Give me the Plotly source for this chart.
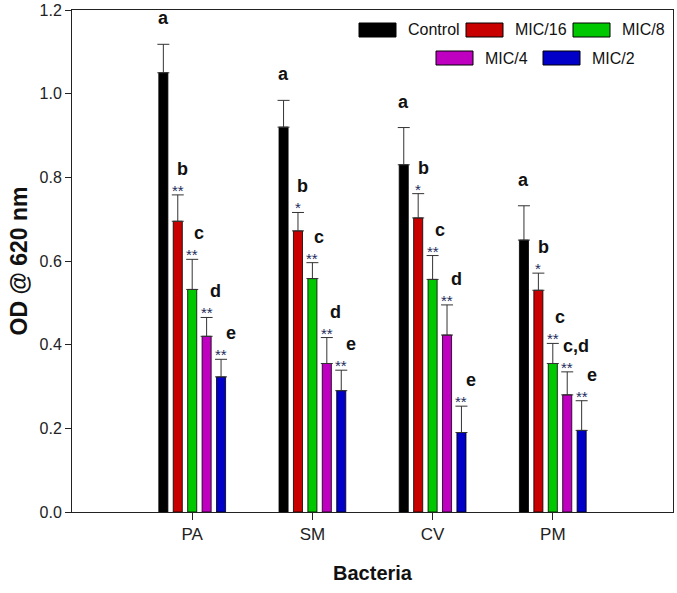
import plotly.graph_objects as go

# ---------------- data ----------------
categories = ["PA", "SM", "CV", "PM"]
series_names = ["Control", "MIC/16", "MIC/8", "MIC/4", "MIC/2"]

control = [1.050, 0.920, 0.830, 0.650]
mic16 = [0.695, 0.672, 0.703, 0.530]
mic8 = [0.532, 0.558, 0.556, 0.355]
mic4 = [0.420, 0.355, 0.423, 0.280]
mic2 = [0.323, 0.290, 0.190, 0.195]

control_err = [0.068, 0.064, 0.089, 0.082]
mic16_err = [0.063, 0.044, 0.058, 0.041]
mic8_err = [0.072, 0.038, 0.057, 0.048]
mic4_err = [0.045, 0.062, 0.072, 0.055]
mic2_err = [0.042, 0.049, 0.063, 0.071]

control_letters = ["a", "a", "a", "a"]
mic16_letters = ["b", "b", "b", "b"]
mic8_letters = ["c", "c", "c", "c"]
mic4_letters = ["d", "d", "d", "c,d"]
mic2_letters = ["e", "e", "e", "e"]

control_stars = ["", "", "", ""]
mic16_stars = ["**", "*", "*", "*"]
mic8_stars = ["**", "**", "**", "**"]
mic4_stars = ["**", "**", "**", "**"]
mic2_stars = ["**", "**", "**", "**"]

y_ticks = [0.0, 0.2, 0.4, 0.6, 0.8, 1.0, 1.2]

# ---------------- styles ----------------
colors = ["#000000", "#c80000", "#00c800", "#c000c0", "#0000c8"]
values = [control, mic16, mic8, mic4, mic2]
errors = [control_err, mic16_err, mic8_err, mic4_err, mic2_err]
letters = [control_letters, mic16_letters, mic8_letters, mic4_letters, mic2_letters]
stars = [control_stars, mic16_stars, mic8_stars, mic4_stars, mic2_stars]
letter_dx = [0, 5, 7, 9, 10]

W, H = 677, 593
ML, MR, MT, MB = 72, 4, 10, 81
PW, PH = W - ML - MR, H - MT - MB

FONT = "Liberation Sans, Arial, sans-serif"

fig = go.Figure()
n = len(series_names)
slot = 0.12  # group slot per bar in category units (bargap 0.4 / 5 bars)
for i, (name, vals, errs, col) in enumerate(zip(series_names, values, errors, colors)):
    fig.add_trace(go.Bar(
        x=categories, y=vals, name=name,
        marker=dict(color=col, line=dict(color="#000000", width=0.8)),
        error_y=dict(type="data", array=errs, symmetric=False,
                     arrayminus=[0] * len(errs),
                     color="#333333", thickness=1, width=6),
        showlegend=False,
    ))
    for j, cat in enumerate(categories):
        xpos = j + (i - (n - 1) / 2) * slot
        top = vals[j] + errs[j]
        if stars[i][j]:
            fig.add_annotation(
                x=xpos, y=top, text=stars[i][j], showarrow=False,
                xanchor="center", yanchor="bottom", yshift=-6,
                font=dict(family=FONT, size=15, color="#1d2b5c"))
        fig.add_annotation(
            x=xpos, y=top, text="<b>" + letters[i][j] + "</b>", showarrow=False,
            xanchor="center", yanchor="middle", yshift=26, xshift=letter_dx[i],
            font=dict(family=FONT, size=18, color="#111111"))

# ------------- manual legend (wide swatches) -------------
def px_x(px):
    return (px - ML) / PW

def px_y(py):
    return (H - MB - py) / PH

legend_rows = [[0, 1, 2], [3, 4]]
row_x0 = [[359, 466, 573], [436, 543]]
row_y = [23, 51]
for r, row in enumerate(legend_rows):
    for k, idx in enumerate(row):
        x0 = row_x0[r][k]
        y0 = row_y[r]
        fig.add_shape(type="rect", xref="paper", yref="paper",
                      x0=px_x(x0), x1=px_x(x0 + 37),
                      y0=px_y(y0 + 14), y1=px_y(y0),
                      fillcolor=colors[idx], line=dict(color="#000000", width=1))
        fig.add_annotation(xref="paper", yref="paper",
                           x=px_x(x0 + 47), y=px_y(y0 + 7),
                           text=series_names[idx], showarrow=False,
                           xanchor="left", yanchor="middle",
                           font=dict(family=FONT, size=16, color="#111111"))

fig.update_layout(
    width=W, height=H,
    margin=dict(l=ML, r=MR, t=MT, b=MB, pad=0, autoexpand=False),
    paper_bgcolor="white", plot_bgcolor="white",
    barmode="group", bargap=0.4, bargroupgap=0.37,
    font=dict(family=FONT, size=16, color="#222222"),
    showlegend=False,
)
fig.update_xaxes(
    type="category", range=[-1.0, 4.0], automargin=False,
    showline=True, linecolor="#222222", linewidth=1, mirror=True,
    ticks="outside", ticklen=7, tickcolor="#222222",
    showgrid=False, zeroline=False,
    tickfont=dict(family=FONT, size=17, color="#222222"),
    title=dict(text="<b>Bacteria</b>", font=dict(family=FONT, size=20, color="#111111"), standoff=22),
)
fig.update_yaxes(
    range=[0, 1.2], tickvals=y_ticks, tickformat=".1f", automargin=False,
    showline=True, linecolor="#222222", linewidth=1, mirror=True,
    ticks="outside", ticklen=6, tickcolor="#222222",
    showgrid=False, zeroline=False,
    tickfont=dict(family=FONT, size=16, color="#222222"),
    title=dict(text="<b>OD @ 620 nm</b>", font=dict(family=FONT, size=23, color="#111111"), standoff=5),
)

fig.write_html("out.html")
